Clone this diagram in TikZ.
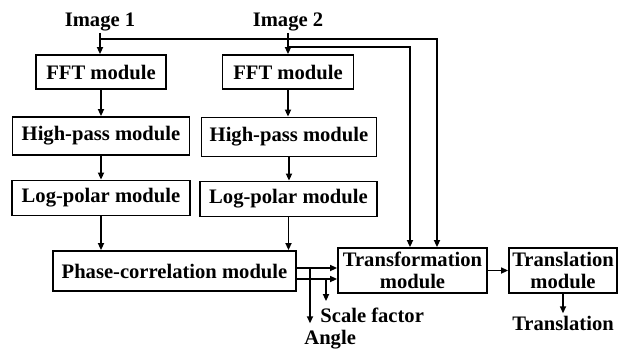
\documentclass[tikz,border=0pt]{standalone}
\usepackage{fontspec}
\setmainfont{Liberation Serif}
\usetikzlibrary{arrows.meta}

\tikzset{
  module/.style={draw, line width=0.9pt, inner sep=0pt, align=center,
    font=\bfseries\fontsize{10.3}{11}\selectfont},
  lbl/.style={inner sep=1pt, font=\bfseries\fontsize{10.3}{11}\selectfont},
  arr/.style={line width=0.8pt, -{Triangle[length=3.5pt,width=3pt]}}
}

\begin{document}
\begin{tikzpicture}[x=0.5pt,y=-0.5pt]
	\useasboundingbox (0,0) rectangle (627,349);

	% inputs
	\node[lbl, anchor=base] (img1) at (100,26) {Image 1};
	\node[lbl, anchor=base] (img2) at (288,26) {Image 2};

	% left branch
	\node[module, minimum width=65pt, minimum height=17pt] (fft1) at (101,72) {FFT module};
	\node[module, minimum width=88.5pt, minimum height=19pt] (hp1) at (101,136) {High-pass module};
	\node[module, minimum width=89pt, minimum height=17.5pt] (lp1) at (101,198) {Log-polar module};

	% right branch
	\node[module, minimum width=65.5pt, minimum height=17pt] (fft2) at (288,72) {FFT module};
	\node[module, minimum width=87.5pt, minimum height=19.5pt] (hp2) at (289,137) {High-pass module};
	\node[module, minimum width=88.5pt, minimum height=17.5pt] (lp2) at (288.5,199) {Log-polar module};

	% bottom row
	\node[module, minimum width=121.5pt, minimum height=20pt] (phase) at (174.5,271) {Phase-correlation module};
	\node[module, minimum width=74.5pt, minimum height=22.5pt] (trans) at (412.5,270.5) {Transformation\\module};
	\node[module, minimum width=54pt, minimum height=22.5pt] (transl) at (563,270.5) {Translation\\module};

	% outputs
	\node[lbl, anchor=base west] (angle) at (302,344) {Angle};
	\node[lbl, anchor=base west] (scale) at (318,322) {Scale factor};
	\node[lbl, anchor=base] (tout) at (563,330) {Translation};

	% bends of the long feeds
	\coordinate (t1) at (437,39);
	\coordinate (t2) at (410,47);
	\coordinate (pa) at (310,268);
	\coordinate (pb) at (326,279);

	\draw[arr] (img1.south) -- (img1.south |- fft1.north);
	\draw[arr] (img2.south) -- (img2.south |- fft2.north);
	\draw[arr] (img1.south) |- (t1) -- (t1 |- trans.north);
	\draw[arr] (img2.south |- t2) -- (t2) -- (t2 |- trans.north);

	\draw[arr] (fft1.south) -- (fft1.south |- hp1.north);
	\draw[arr] (hp1.south) -- (hp1.south |- lp1.north);
	\draw[arr] (lp1.south) -- (lp1.south |- phase.north);
	\draw[arr] (fft2.south) -- (fft2.south |- hp2.north);
	\draw[arr] (hp2.south) -- (hp2.south |- lp2.north);
	\draw[arr] (lp2.south) -- (lp2.south |- phase.north);

	% phase correlation results
	\draw[arr] (phase.east |- pa) -- (trans.west |- pa);
	\draw[arr] (phase.east |- pb) -- (trans.west |- pb);
	\draw[arr] (pa) -- ([yshift=2pt]pa |- angle.north);
	\draw[arr] (pb) -- ([yshift=2pt]pb |- scale.north);

	\draw[arr] (trans.east) -- (transl.west);
	\draw[arr] (transl.south) -- (transl.south |- tout.north);
\end{tikzpicture}
\end{document}
